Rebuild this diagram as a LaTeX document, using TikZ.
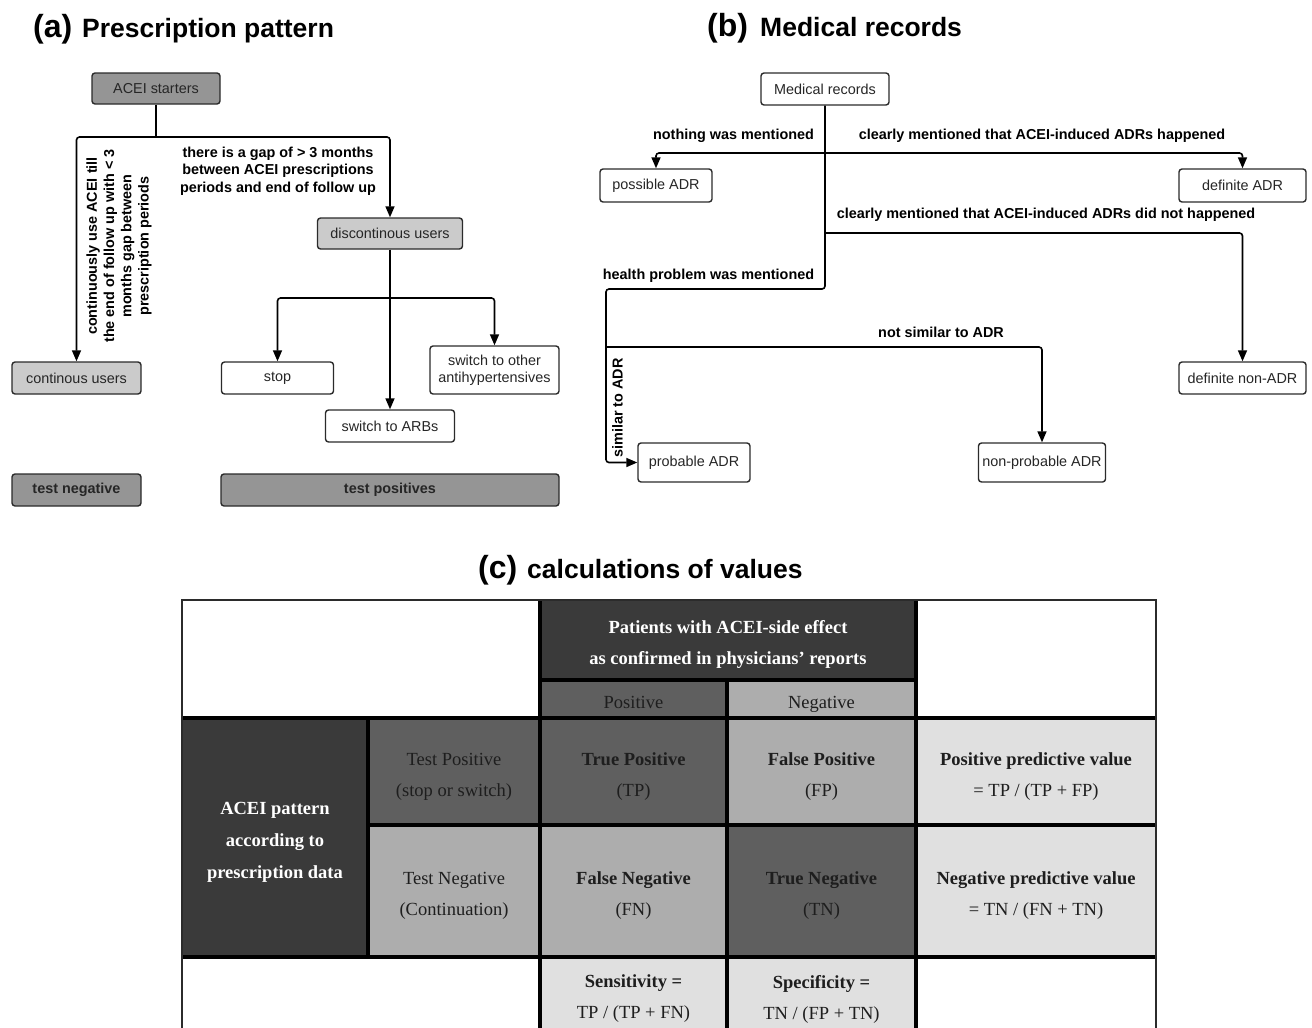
\documentclass[tikz,border=0pt]{standalone}
\usepackage{fontspec}
\setmainfont{Liberation Sans}
\newfontfamily\tabfont{Liberation Serif}
\usetikzlibrary{arrows.meta}
\definecolor{boxdark}{HTML}{959595}
\definecolor{boxlight}{HTML}{CBCBCB}
\definecolor{edge}{HTML}{2B2B2B}
\definecolor{tdark}{HTML}{3A3A3A}
\definecolor{tmid}{HTML}{5F5F5F}
\definecolor{tlight}{HTML}{ADADAD}
\definecolor{tpale}{HTML}{E0E0E0}
\definecolor{ttext}{HTML}{1E1E1E}
\begin{document}
\begin{tikzpicture}[x=1pt,y=-1pt,
  box/.style={draw=edge, line width=1.4pt, rounded corners=3pt, inner sep=0pt,
    font=\fontsize{14.4}{17}\selectfont, align=center, text=black!85, fill=white},
  conn/.style={draw=black, line width=1.6pt, rounded corners=3pt,
    -{Triangle[length=11pt,width=9pt]}},
  link/.style={draw=black, line width=1.6pt, rounded corners=3pt},
  lbl/.style={font=\fontsize{14.4}{17.3}\selectfont\bfseries, align=center, inner sep=0pt},
  ttl/.style={anchor=base west, inner sep=0pt, font=\fontsize{26.5}{28}\selectfont\bfseries},
  tag/.style={anchor=base west, inner sep=0pt, font=\fontsize{32}{34}\selectfont\bfseries},
  cell/.style={inner sep=0pt},
  ctext/.style={inner sep=0pt, align=center, font=\tabfont\fontsize{18.5}{31}\selectfont, text=ttext},
  grid/.style={line width=4.5pt, black}]
\useasboundingbox (0,0) rectangle (1312,1028);

% ---------- titles ----------
\node[tag] (ta) at (33,37) {(a)};
\node[ttl] (tta) at (82,37) {Prescription pattern};
\node[tag] (tb) at (707,36) {(b)};
\node[ttl] (ttb) at (760,36) {Medical records};
\node[tag] (tc) at (478,578) {(c)};
\node[ttl] (ttc) at (527,578) {calculations of values};

% ---------- (a) ----------
\node[box, fill=boxdark, minimum width=128pt, minimum height=31pt] (acei) at (156,88.5) {ACEI starters};
\node[box, fill=boxlight, minimum width=145pt, minimum height=31pt] (disc) at (390,233.5) {discontinous users};
\node[box, fill=boxlight, minimum width=129pt, minimum height=32pt] (cont) at (76.5,378) {continous users};
\node[box, minimum width=112pt, minimum height=32pt] (stop) at (277.5,378) {stop};
\node[box, minimum width=129pt, minimum height=48pt] (sw) at (494.5,370) {switch to other\\antihypertensives};
\node[box, minimum width=129pt, minimum height=32pt] (arb) at (390,426) {switch to ARBs};
\node[box, fill=boxdark, minimum width=129pt, minimum height=32pt, font=\fontsize{14.4}{17}\selectfont\bfseries] (tneg) at (76.5,490) {test negative};
\node[box, fill=boxdark, minimum width=338pt, minimum height=32pt, font=\fontsize{14.4}{17}\selectfont\bfseries] (tpos) at (390,490) {test positives};

\coordinate (ja) at (156,137);
\coordinate (jb) at (390,298);
\draw[link] (acei.south) -- (ja);
\draw[conn] (ja) -| (cont.north);
\draw[conn] (ja) -| (disc.north);
\draw[conn] (disc.south) -- (arb.north);
\draw[conn] (jb) -| (stop.north);
\draw[conn] (jb) -| (sw.north);

\node[lbl] (gaplbl) at (278,171) {there is a gap of > 3 months\\between ACEI prescriptions\\periods and end of follow up};
\node[lbl, rotate=90] (contlbl) at (119,246) {continuously use ACEI till\\the end of follow up with < 3\\months gap between\\prescription periods};

% ---------- (b) ----------
\node[box, minimum width=128pt, minimum height=32pt] (med) at (825,89) {Medical records};
\node[box, minimum width=112pt, minimum height=33pt] (poss) at (656,185.5) {possible ADR};
\node[box, minimum width=127pt, minimum height=33pt] (def) at (1242.5,185.5) {definite ADR};
\node[box, minimum width=127pt, minimum height=32pt] (nonadr) at (1242.5,378) {definite non-ADR};
\node[box, minimum width=112pt, minimum height=39pt] (prob) at (694,462.5) {probable ADR};
\node[box, minimum width=127pt, minimum height=39pt] (nonprob) at (1042,462.5) {non-probable ADR};

\coordinate (b1) at (825,153);
\coordinate (b2) at (825,233);
\coordinate (b3) at (825,289);
\coordinate (b4) at (606,289);
\coordinate (b5) at (606,347);
\draw[conn] (med.south) -- (b3) -- (b4) |- (prob.west);
\draw[conn] (b1) -| (poss.north);
\draw[conn] (b1) -| (def.north);
\draw[conn] (b2) -| (nonadr.north);
\draw[conn] (b5) -| (nonprob.north);

\node[lbl] (l1) at (733.5,136) {nothing was mentioned};
\node[lbl] (l2) at (1042,136) {clearly mentioned that ACEI-induced ADRs happened};
\node[lbl] (l3) at (1046,215) {clearly mentioned that ACEI-induced ADRs did not happened};
\node[lbl] (l4) at (708.5,276) {health problem was mentioned};
\node[lbl] (l5) at (941,332) {not similar to ADR};
\node[lbl, rotate=90] (l6) at (617.5,408) {similar to ADR};

% ---------- (c) table: cells ----------
\node[cell, fill=white, minimum width=358pt, minimum height=118pt] (tl) at (361,659) {};
\node[cell, fill=tdark, minimum width=376pt, minimum height=80pt] (hdr) at (728,640) {};
\node[cell, fill=tmid, minimum width=187pt, minimum height=38pt] (posh) at (633.5,699) {};
\node[cell, fill=tlight, minimum width=189pt, minimum height=38pt] (negh) at (821.5,699) {};
\node[cell, fill=white, minimum width=240pt, minimum height=118pt] (tr) at (1036,659) {};
\node[cell, fill=tdark, minimum width=186pt, minimum height=239pt] (pat) at (275,837.5) {};
\node[cell, fill=tmid, minimum width=172pt, minimum height=107pt] (tpr) at (454,771.5) {};
\node[cell, fill=tlight, minimum width=172pt, minimum height=132pt] (tnr) at (454,891) {};
\node[cell, fill=tmid, minimum width=187pt, minimum height=107pt] (tp) at (633.5,771.5) {};
\node[cell, fill=tlight, minimum width=189pt, minimum height=107pt] (fp) at (821.5,771.5) {};
\node[cell, fill=tpale, minimum width=240pt, minimum height=107pt] (ppv) at (1036,771.5) {};
\node[cell, fill=tlight, minimum width=187pt, minimum height=132pt] (fn) at (633.5,891) {};
\node[cell, fill=tmid, minimum width=189pt, minimum height=132pt] (tn) at (821.5,891) {};
\node[cell, fill=tpale, minimum width=240pt, minimum height=132pt] (npv) at (1036,891) {};
\node[cell, fill=white, minimum width=358pt, minimum height=71pt] (bl) at (361,992.5) {};
\node[cell, fill=tpale, minimum width=187pt, minimum height=71pt] (sens) at (633.5,992.5) {};
\node[cell, fill=tpale, minimum width=189pt, minimum height=71pt] (spec) at (821.5,992.5) {};
\node[cell, fill=white, minimum width=240pt, minimum height=71pt] (br) at (1036,992.5) {};

% ---------- (c) table: texts ----------
\node[ctext, text=white, font=\tabfont\fontsize{18.5}{31}\selectfont\bfseries] (hdrt) at (728,644.5) {Patients with ACEI-side effect\\as confirmed in physicians’ reports};
\node[ctext, anchor=base] (posht) at (633.5,708) {Positive};
\node[ctext, anchor=base] (negt) at (821.5,708) {Negative};
\node[ctext, text=white, font=\tabfont\fontsize{18.5}{32}\selectfont\bfseries] (patt) at (275,842.5) {ACEI pattern\\according to\\prescription data};
\node[ctext] (tprt) at (454,776.5) {Test Positive\\(stop or switch)};
\node[ctext] (tnrt) at (454,896) {Test Negative\\(Continuation)};
\node[ctext] (tpt) at (633.5,776.5) {\textbf{True Positive}\\(TP)};
\node[ctext] (fpt) at (821.5,776.5) {\textbf{False Positive}\\(FP)};
\node[ctext] (ppvt) at (1036,776.5) {\textbf{Positive predictive value}\\= TP / (TP + FP)};
\node[ctext] (fnt) at (633.5,896) {\textbf{False Negative}\\(FN)};
\node[ctext] (tnt) at (821.5,896) {\textbf{True Negative}\\(TN)};
\node[ctext] (npvt) at (1036,896) {\textbf{Negative predictive value}\\= TN / (FN + TN)};
\node[ctext] (senst) at (633.5,999) {\textbf{Sensitivity =}\\TP / (TP + FN)};
\node[ctext] (spect) at (821.5,999) {\textbf{Specificity =}\\TN / (FP + TN)};

% grid lines
\draw[grid] (182,718) -- (1156,718);
\draw[grid] (182,957) -- (1156,957);
\draw[grid] (368,825) -- (1156,825);
\draw[grid] (540,680) -- (916,680);
\draw[grid] (540,600) -- (540,1030);
\draw[grid] (727,680) -- (727,1030);
\draw[grid] (916,600) -- (916,1030);
\draw[grid] (368,718) -- (368,957);
\draw[line width=1.8pt, edge] (182,1030) -- (182,600) -- (1156,600) -- (1156,1030);
\end{tikzpicture}
\end{document}
